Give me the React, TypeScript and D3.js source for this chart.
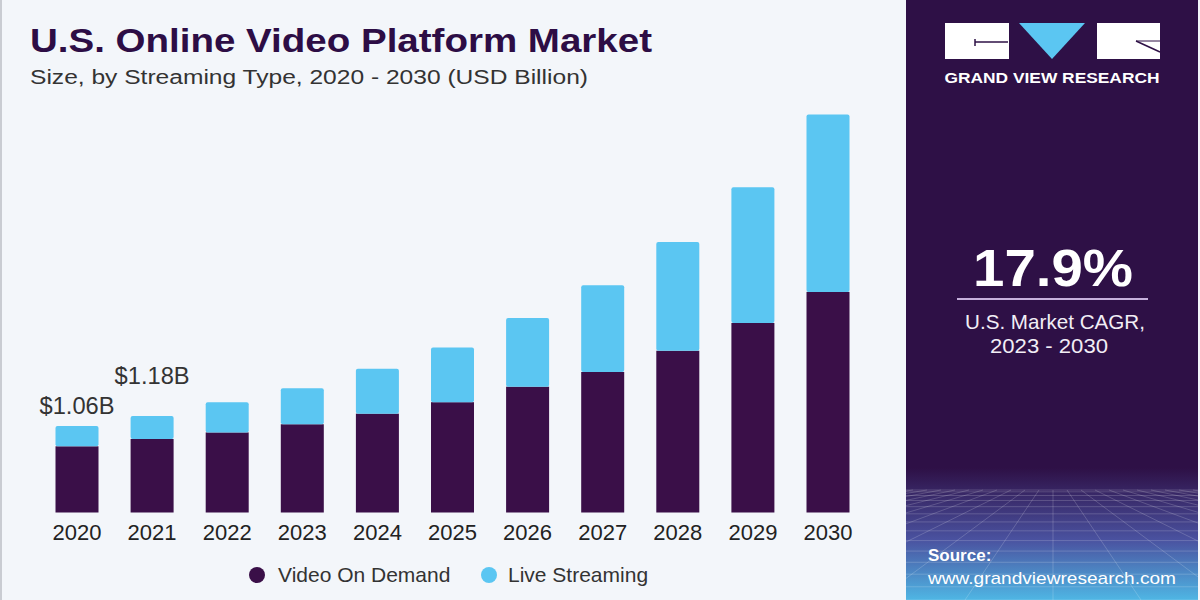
import * as d3 from "d3";

const years = ["2020", "2021", "2022", "2023", "2024", "2025", "2026", "2027", "2028", "2029", "2030"];
const videoOnDemand = [0.81, 0.9, 0.98, 1.08, 1.21, 1.35, 1.54, 1.72, 1.98, 2.32, 2.7];
const liveStreaming = [0.25, 0.28, 0.37, 0.44, 0.55, 0.67, 0.84, 1.06, 1.33, 1.66, 2.17];
const valueLabels = ["$1.06B", "$1.18B"];
const seriesNames = ["Video On Demand", "Live Streaming"];

const PURPLE = "#3a0f48";
const BLUE = "#5bc6f2";
const PANEL = "#2e1046";

export default function App() {
  const width = 1200;
  const height = 600;

  const x = d3.scalePoint<string>().domain(years).range([77, 828]);
  const y = d3.scaleLinear().domain([0, 5]).range([512.5, 104]);
  const barW = 43;
  // the second callout sits a bit higher than the first
  const labelGap = [12, 32];

  const rows = years.map((yr, i) => ({
    year: yr,
    vod: videoOnDemand[i],
    live: liveStreaming[i],
  }));

  const stack = d3.stack<any>().keys(["vod", "live"])(rows);

  // perspective grid at the bottom of the side panel
  const gridTop = 490;
  const vanishX = 1053;
  const hLines = d3.range(0, 14).map((i) => gridTop + Math.pow(i / 13, 1.6) * 110);
  const vLines = d3.range(-14, 15).map((i) => i * 40);

  return (
    <svg width={width} height={height} style={{ display: "block", fontFamily: "'Liberation Sans', Arial, sans-serif" }}>
      <style>{"body{margin:0}"}</style>
      <defs>
        <linearGradient id="panelGrad" x1="0" y1="0" x2="0" y2="1">
          <stop offset="0" stopColor={PANEL} />
          <stop offset="0.78" stopColor={PANEL} />
          <stop offset="0.9" stopColor="#4a52a0" />
          <stop offset="1" stopColor="#4fb6e4" />
        </linearGradient>
        <clipPath id="panelClip">
          <rect x={906} y={0} width={292} height={600} />
        </clipPath>
      </defs>

      <rect x={0} y={0} width={width} height={height} fill="#f3f6fa" />
      <rect x={0} y={0} width={2} height={height} fill="#c9ccd2" />

      <text x={30} y={52} fontSize={33} fontWeight="bold" fill="#2d0d45" textLength={622} lengthAdjust="spacingAndGlyphs">
        U.S. Online Video Platform Market
      </text>
      <text x={30} y={84} fontSize={20} fill="#333" textLength={558} lengthAdjust="spacingAndGlyphs">
        Size, by Streaming Type, 2020 - 2030 (USD Billion)
      </text>

      {stack.map((layer, li) => (
        <g key={layer.key} fill={li === 0 ? PURPLE : BLUE}>
          {layer.map((d: any) => (
            <rect
              key={d.data.year}
              x={(x(d.data.year) as number) - barW / 2}
              y={y(d[1])}
              width={barW}
              height={y(d[0]) - y(d[1])}
              rx={li === 1 ? 2 : 0}
            />
          ))}
        </g>
      ))}

      {valueLabels.map((lbl, i) => (
        <text
          key={lbl}
          x={x(years[i])}
          y={y(videoOnDemand[i] + liveStreaming[i]) - labelGap[i]}
          textAnchor="middle"
          fontSize={23}
          fill="#333"
          textLength={75}
          lengthAdjust="spacingAndGlyphs"
        >
          {lbl}
        </text>
      ))}

      {years.map((yr) => (
        <text key={yr} x={x(yr)} y={540} textAnchor="middle" fontSize={22} fill="#222">
          {yr}
        </text>
      ))}

      <g fontSize={21} fill="#333">
        <circle cx={257} cy={575} r={8} fill={PURPLE} />
        <text x={278} y={582}>{seriesNames[0]}</text>
        <circle cx={489} cy={575} r={8} fill={BLUE} />
        <text x={508} y={582}>{seriesNames[1]}</text>
      </g>

      {/* side panel */}
      <rect x={906} y={0} width={292} height={600} fill="url(#panelGrad)" />
      <g clipPath="url(#panelClip)" stroke="#ffffff" strokeOpacity={0.18} strokeWidth={1} fill="none">
        {hLines.map((hy, i) => (
          <line key={"h" + i} x1={906} x2={1198} y1={hy} y2={hy} />
        ))}
        {vLines.map((off, i) => (
          <line key={"v" + i} x1={vanishX + off * 0.35} y1={gridTop} x2={vanishX + off * 2.2} y2={600} />
        ))}
      </g>

      <g>
        <rect x={945} y={23} width={64} height={36} fill="#fff" />
        <line x1={975} y1={42} x2={1008} y2={42} stroke={PANEL} strokeWidth={1.5} />
        <line x1={975} y1={39} x2={975} y2={46} stroke={PANEL} strokeWidth={1.5} />
        <path d="M1019,23 L1085,23 L1052,59 Z" fill={BLUE} />
        <rect x={1097} y={23} width={63} height={36} fill="#fff" />
        <line x1={1136} y1={41} x2={1160} y2={52} stroke={PANEL} strokeWidth={1.5} />
        <line x1={1136} y1={41} x2={1160} y2={41} stroke={PANEL} strokeWidth={1} />
        <text x={1052} y={83} textAnchor="middle" fontSize={14} fontWeight="bold" fill="#fff" textLength={215} lengthAdjust="spacingAndGlyphs">
          GRAND VIEW RESEARCH
        </text>
      </g>

      <text x={1053} y={286} textAnchor="middle" fontSize={52} fontWeight="bold" fill="#fff" textLength={160} lengthAdjust="spacingAndGlyphs">
        17.9%
      </text>
      <line x1={957} x2={1148} y1={299} y2={299} stroke="#c6b0dc" strokeWidth={2} />
      <text x={1055} y={329} textAnchor="middle" fontSize={21} fill="#f2eef6" textLength={180} lengthAdjust="spacingAndGlyphs">
        U.S. Market CAGR,
      </text>
      <text x={1049} y={353} textAnchor="middle" fontSize={21} fill="#f2eef6" textLength={118} lengthAdjust="spacingAndGlyphs">
        2023 - 2030
      </text>

      <text x={928} y={561} fontSize={17} fontWeight="bold" fill="#fff">
        Source:
      </text>
      <text x={928} y={584} fontSize={17} fill="#fff" textLength={248} lengthAdjust="spacingAndGlyphs">
        www.grandviewresearch.com
      </text>
    </svg>
  );
}
